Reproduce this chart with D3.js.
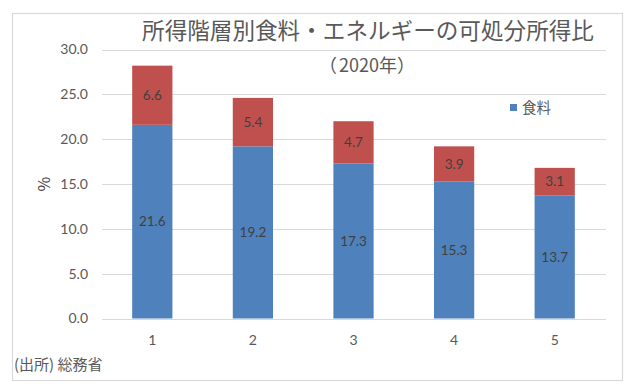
<!DOCTYPE html>
<html>
<head>
<meta charset="utf-8">
<script src="https://cdn.jsdelivr.net/npm/d3@7"></script>
<style>
  body { margin: 0; background: #fff; }
  text { font-family: "Lato", "Noto Sans CJK JP", sans-serif; }
  .jp { font-family: "Noto Sans CJK JP", sans-serif; }
</style>
</head>
<body>
<div id="chart"></div>
<script>
// データ
const categories = ["1", "2", "3", "4", "5"];
const foodValues = [21.6, 19.2, 17.3, 15.3, 13.7];
const energyValues = [6.6, 5.4, 4.7, 3.9, 3.1];
const yTicks = [0, 5, 10, 15, 20, 25, 30];

const width = 630, height = 390;
const svg = d3.select("#chart").append("svg")
    .attr("width", width)
    .attr("height", height);

// 外枠
svg.append("rect")
    .attr("x", 12.5).attr("y", 13.5)
    .attr("width", 610).attr("height", 367)
    .attr("fill", "#fff")
    .attr("stroke", "#d9d9d9")
    .attr("stroke-width", 1.2);

const x = d3.scaleBand()
    .domain(categories)
    .range([102, 605])
    .paddingInner(0.6)
    .paddingOuter(0.3);

const y = d3.scaleLinear()
    .domain([0, 30])
    .range([318.5, 49.5]);

// グリッド線
svg.append("g").selectAll("line")
    .data(yTicks)
    .join("line")
    .attr("x1", 102).attr("x2", 606)
    .attr("y1", d => Math.round(y(d)) + 0.5)
    .attr("y2", d => Math.round(y(d)) + 0.5)
    .attr("stroke", "#d9d9d9")
    .attr("stroke-width", 1);

// Y軸ラベル
svg.append("g").selectAll("text")
    .data(yTicks)
    .join("text")
    .attr("x", 88)
    .attr("y", d => y(d))
    .attr("dy", "0.35em")
    .attr("text-anchor", "end")
    .attr("font-size", 14)
    .attr("fill", "#595959")
    .text(d => d.toFixed(1));

svg.append("text")
    .attr("class", "jp")
    .attr("transform", `translate(44,${y(15)}) rotate(-90)`)
    .attr("text-anchor", "middle")
    .attr("dy", "0.35em")
    .attr("font-size", 16)
    .attr("fill", "#404040")
    .text("%");

// 積み上げ棒
const rows = categories.map((c, i) => ({ cat: c, food: foodValues[i], energy: energyValues[i] }));

const bars = svg.append("g");
bars.selectAll("rect.food")
    .data(rows)
    .join("rect")
    .attr("class", "food")
    .attr("x", d => x(d.cat))
    .attr("width", x.bandwidth())
    .attr("y", d => y(d.food))
    .attr("height", d => y(0) - y(d.food))
    .attr("fill", "#4f81bd");

bars.selectAll("rect.energy")
    .data(rows)
    .join("rect")
    .attr("class", "energy")
    .attr("x", d => x(d.cat))
    .attr("width", x.bandwidth())
    .attr("y", d => y(d.food + d.energy))
    .attr("height", d => y(d.food) - y(d.food + d.energy))
    .attr("fill", "#c0504d");

// データラベル
bars.selectAll("text.foodLbl")
    .data(rows)
    .join("text")
    .attr("x", d => x(d.cat) + x.bandwidth() / 2)
    .attr("y", d => y(d.food / 2))
    .attr("dy", "0.35em")
    .attr("text-anchor", "middle")
    .attr("font-size", 13.5)
    .attr("fill", "#404040")
    .text(d => d.food.toFixed(1));

bars.selectAll("text.energyLbl")
    .data(rows)
    .join("text")
    .attr("x", d => x(d.cat) + x.bandwidth() / 2)
    .attr("y", d => y(d.food + d.energy / 2))
    .attr("dy", "0.35em")
    .attr("text-anchor", "middle")
    .attr("font-size", 13.5)
    .attr("fill", "#404040")
    .text(d => d.energy.toFixed(1));

// X軸ラベル
svg.append("g").selectAll("text")
    .data(categories)
    .join("text")
    .attr("x", d => x(d) + x.bandwidth() / 2)
    .attr("y", 340)
    .attr("dy", "0.35em")
    .attr("text-anchor", "middle")
    .attr("font-size", 14)
    .attr("fill", "#595959")
    .text(d => d);

// タイトル
svg.append("text")
    .attr("class", "jp")
    .attr("x", 368).attr("y", 31)
    .attr("dy", "0.35em")
    .attr("text-anchor", "middle")
    .attr("font-size", 22.6)
    .attr("fill", "#595959")
    .text("所得階層別食料・エネルギーの可処分所得比");

const sub = svg.append("text")
    .attr("class", "jp")
    .attr("x", 367).attr("y", 66)
    .attr("dy", "0.35em")
    .attr("text-anchor", "middle")
    .attr("font-size", 18)
    .attr("fill", "#595959");
sub.append("tspan").text("（");
sub.append("tspan").attr("dx", 2).text("2020年");
sub.append("tspan").attr("dx", 0).text("）");

// 凡例
svg.append("rect")
    .attr("x", 510).attr("y", 104)
    .attr("width", 7).attr("height", 7)
    .attr("fill", "#4f81bd");
svg.append("text")
    .attr("class", "jp")
    .attr("x", 522).attr("y", 108)
    .attr("dy", "0.35em")
    .attr("font-size", 14.5)
    .attr("fill", "#595959")
    .text("食料");

// 出所
svg.append("text")
    .attr("class", "jp")
    .attr("x", 14).attr("y", 365)
    .attr("dy", "0.35em")
    .attr("font-size", 15)
    .attr("fill", "#595959")
    .text("(出所) 総務省");
</script>
</body>
</html>
